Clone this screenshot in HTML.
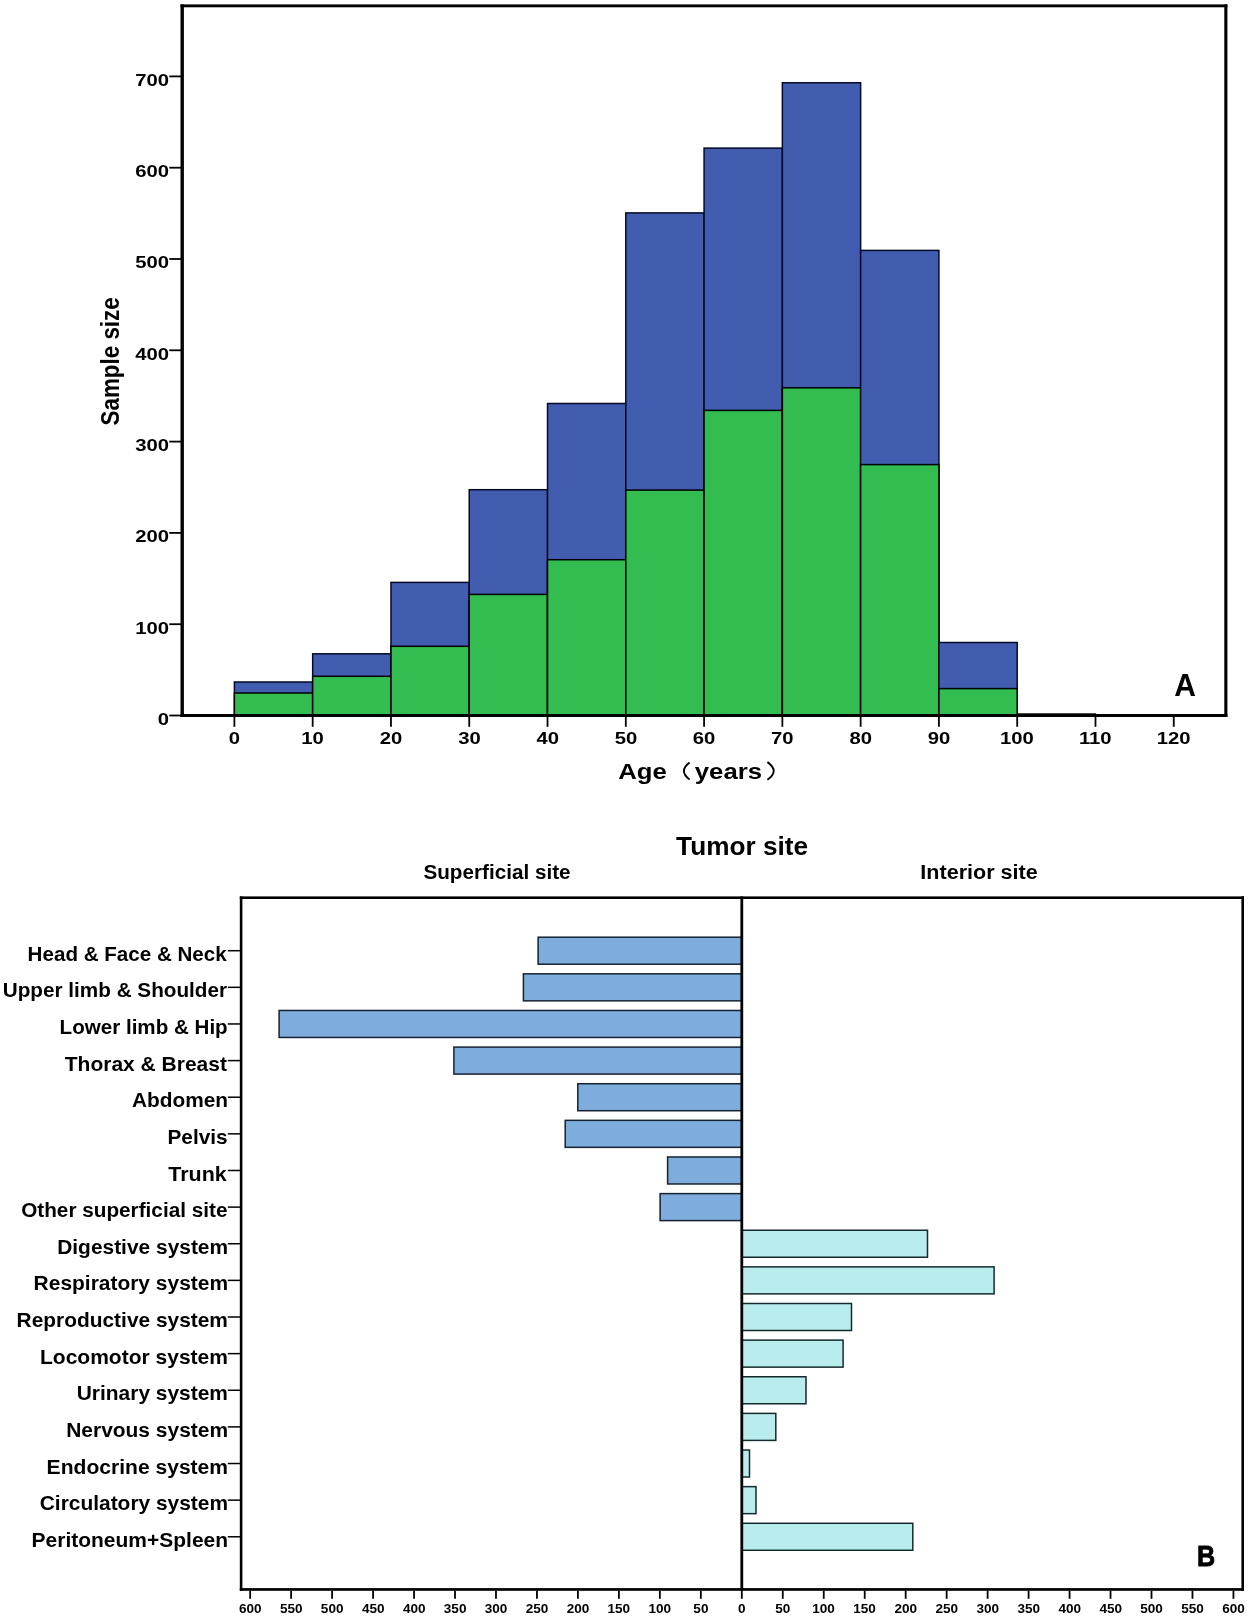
<!DOCTYPE html>
<html><head><meta charset="utf-8"><style>
html,body{margin:0;padding:0;background:#fff;}
svg{display:block;will-change:transform;}
text{font-family:"Liberation Sans", sans-serif;font-weight:bold;fill:#000;}
</style></head><body>
<svg width="1250" height="1618" viewBox="0 0 1250 1618">
<rect width="1250" height="1618" fill="#fff"/>
<rect x="234.40" y="682.00" width="78.28" height="33.50" fill="#425CB0" stroke="#050a25" stroke-width="1.5"/>
<rect x="234.40" y="693.00" width="78.28" height="22.50" fill="#33BC4F" stroke="#000" stroke-width="1.5"/>
<rect x="312.68" y="653.80" width="78.28" height="61.70" fill="#425CB0" stroke="#050a25" stroke-width="1.5"/>
<rect x="312.68" y="676.30" width="78.28" height="39.20" fill="#33BC4F" stroke="#000" stroke-width="1.5"/>
<rect x="390.96" y="582.40" width="78.28" height="133.10" fill="#425CB0" stroke="#050a25" stroke-width="1.5"/>
<rect x="390.96" y="646.30" width="78.28" height="69.20" fill="#33BC4F" stroke="#000" stroke-width="1.5"/>
<rect x="469.24" y="489.70" width="78.28" height="225.80" fill="#425CB0" stroke="#050a25" stroke-width="1.5"/>
<rect x="469.24" y="594.40" width="78.28" height="121.10" fill="#33BC4F" stroke="#000" stroke-width="1.5"/>
<rect x="547.52" y="403.50" width="78.28" height="312.00" fill="#425CB0" stroke="#050a25" stroke-width="1.5"/>
<rect x="547.52" y="559.70" width="78.28" height="155.80" fill="#33BC4F" stroke="#000" stroke-width="1.5"/>
<rect x="625.80" y="212.90" width="78.28" height="502.60" fill="#425CB0" stroke="#050a25" stroke-width="1.5"/>
<rect x="625.80" y="490.10" width="78.28" height="225.40" fill="#33BC4F" stroke="#000" stroke-width="1.5"/>
<rect x="704.08" y="148.10" width="78.28" height="567.40" fill="#425CB0" stroke="#050a25" stroke-width="1.5"/>
<rect x="704.08" y="410.40" width="78.28" height="305.10" fill="#33BC4F" stroke="#000" stroke-width="1.5"/>
<rect x="782.36" y="82.75" width="78.28" height="632.75" fill="#425CB0" stroke="#050a25" stroke-width="1.5"/>
<rect x="782.36" y="387.80" width="78.28" height="327.70" fill="#33BC4F" stroke="#000" stroke-width="1.5"/>
<rect x="860.64" y="250.40" width="78.28" height="465.10" fill="#425CB0" stroke="#050a25" stroke-width="1.5"/>
<rect x="860.64" y="464.60" width="78.28" height="250.90" fill="#33BC4F" stroke="#000" stroke-width="1.5"/>
<rect x="938.92" y="642.50" width="78.28" height="73.00" fill="#425CB0" stroke="#050a25" stroke-width="1.5"/>
<rect x="938.92" y="688.60" width="78.28" height="26.90" fill="#33BC4F" stroke="#000" stroke-width="1.5"/>
<rect x="1016.60" y="713.30" width="79.48" height="3.70" fill="#000"/>
<rect x="180.50" y="4.40" width="1046.90" height="2.90" fill="#000"/>
<rect x="180.50" y="4.40" width="3.40" height="712.60" fill="#000"/>
<rect x="1224.30" y="4.40" width="3.10" height="712.60" fill="#000"/>
<rect x="180.50" y="714.00" width="1046.90" height="3.00" fill="#000"/>
<line x1="169.3" y1="715.5" x2="182" y2="715.5" stroke="#000" stroke-width="1.8"/>
<text transform="translate(157.86,724.80) scale(1.1650,1)" font-size="17.4" >0</text>
<line x1="169.3" y1="624.2" x2="182" y2="624.2" stroke="#000" stroke-width="1.8"/>
<text transform="translate(135.32,633.50) scale(1.1650,1)" font-size="17.4" >100</text>
<line x1="169.3" y1="532.9" x2="182" y2="532.9" stroke="#000" stroke-width="1.8"/>
<text transform="translate(135.32,542.20) scale(1.1650,1)" font-size="17.4" >200</text>
<line x1="169.3" y1="441.6" x2="182" y2="441.6" stroke="#000" stroke-width="1.8"/>
<text transform="translate(135.32,450.90) scale(1.1650,1)" font-size="17.4" >300</text>
<line x1="169.3" y1="350.3" x2="182" y2="350.3" stroke="#000" stroke-width="1.8"/>
<text transform="translate(135.32,359.60) scale(1.1650,1)" font-size="17.4" >400</text>
<line x1="169.3" y1="259.0" x2="182" y2="259.0" stroke="#000" stroke-width="1.8"/>
<text transform="translate(135.32,268.30) scale(1.1650,1)" font-size="17.4" >500</text>
<line x1="169.3" y1="167.70000000000005" x2="182" y2="167.70000000000005" stroke="#000" stroke-width="1.8"/>
<text transform="translate(135.32,177.00) scale(1.1650,1)" font-size="17.4" >600</text>
<line x1="169.3" y1="76.39999999999998" x2="182" y2="76.39999999999998" stroke="#000" stroke-width="1.8"/>
<text transform="translate(135.32,85.70) scale(1.1650,1)" font-size="17.4" >700</text>
<line x1="234.4" y1="717" x2="234.4" y2="726.8" stroke="#000" stroke-width="1.8"/>
<text transform="translate(228.77,744.20) scale(1.1650,1)" font-size="17.4" >0</text>
<line x1="312.68" y1="717" x2="312.68" y2="726.8" stroke="#000" stroke-width="1.8"/>
<text transform="translate(301.19,744.20) scale(1.1650,1)" font-size="17.4" >10</text>
<line x1="390.96000000000004" y1="717" x2="390.96000000000004" y2="726.8" stroke="#000" stroke-width="1.8"/>
<text transform="translate(379.75,744.20) scale(1.1650,1)" font-size="17.4" >20</text>
<line x1="469.24" y1="717" x2="469.24" y2="726.8" stroke="#000" stroke-width="1.8"/>
<text transform="translate(458.15,744.20) scale(1.1650,1)" font-size="17.4" >30</text>
<line x1="547.52" y1="717" x2="547.52" y2="726.8" stroke="#000" stroke-width="1.8"/>
<text transform="translate(536.51,744.20) scale(1.1650,1)" font-size="17.4" >40</text>
<line x1="625.8" y1="717" x2="625.8" y2="726.8" stroke="#000" stroke-width="1.8"/>
<text transform="translate(614.63,744.20) scale(1.1650,1)" font-size="17.4" >50</text>
<line x1="704.08" y1="717" x2="704.08" y2="726.8" stroke="#000" stroke-width="1.8"/>
<text transform="translate(692.85,744.20) scale(1.1650,1)" font-size="17.4" >60</text>
<line x1="782.36" y1="717" x2="782.36" y2="726.8" stroke="#000" stroke-width="1.8"/>
<text transform="translate(771.07,744.20) scale(1.1650,1)" font-size="17.4" >70</text>
<line x1="860.64" y1="717" x2="860.64" y2="726.8" stroke="#000" stroke-width="1.8"/>
<text transform="translate(849.46,744.20) scale(1.1650,1)" font-size="17.4" >80</text>
<line x1="938.92" y1="717" x2="938.92" y2="726.8" stroke="#000" stroke-width="1.8"/>
<text transform="translate(927.71,744.20) scale(1.1650,1)" font-size="17.4" >90</text>
<line x1="1017.1999999999999" y1="717" x2="1017.1999999999999" y2="726.8" stroke="#000" stroke-width="1.8"/>
<text transform="translate(1000.07,744.20) scale(1.1650,1)" font-size="17.4" >100</text>
<line x1="1095.48" y1="717" x2="1095.48" y2="726.8" stroke="#000" stroke-width="1.8"/>
<text transform="translate(1078.91,744.20) scale(1.1650,1)" font-size="17.4" >110</text>
<line x1="1173.76" y1="717" x2="1173.76" y2="726.8" stroke="#000" stroke-width="1.8"/>
<text transform="translate(1156.63,744.20) scale(1.1650,1)" font-size="17.4" >120</text>
<text transform="translate(618.26,779.20) scale(1.1200,1)" font-size="23" >Age</text>
<text transform="translate(694.79,779.20) scale(1.1200,1)" font-size="23" >years</text>
<path d="M689.6,762.4 Q678.2,771 689.6,779.6" fill="none" stroke="#000" stroke-width="1.9"/>
<path d="M767.4,762.1 Q780.0,770.9 767.4,779.7" fill="none" stroke="#000" stroke-width="1.9"/>
<text transform="translate(118.75,425.45) rotate(-90) scale(1,1.13)" font-size="22.4">Sample size</text>
<text transform="translate(1174.15,695.90) scale(0.9500,1)" font-size="31.7" >A</text>
<rect x="538.10" y="937.20" width="203.70" height="27.00" fill="#7EACDD" stroke="#16222F" stroke-width="1.5"/>
<line x1="227.8" y1="950.7" x2="240.5" y2="950.7" stroke="#000" stroke-width="1.5"/>
<text transform="translate(27.62,960.80) scale(1.0561,1)" font-size="19.5" >Head &amp; Face &amp; Neck</text>
<rect x="523.40" y="973.83" width="218.40" height="27.00" fill="#7EACDD" stroke="#16222F" stroke-width="1.5"/>
<line x1="227.8" y1="987.33" x2="240.5" y2="987.33" stroke="#000" stroke-width="1.5"/>
<text transform="translate(2.76,997.43) scale(1.0620,1)" font-size="19.5" >Upper limb &amp; Shoulder</text>
<rect x="279.10" y="1010.46" width="462.70" height="27.00" fill="#7EACDD" stroke="#16222F" stroke-width="1.5"/>
<line x1="227.8" y1="1023.96" x2="240.5" y2="1023.96" stroke="#000" stroke-width="1.5"/>
<text transform="translate(59.62,1034.06) scale(1.0550,1)" font-size="19.5" >Lower limb &amp; Hip</text>
<rect x="453.90" y="1047.09" width="287.90" height="27.00" fill="#7EACDD" stroke="#16222F" stroke-width="1.5"/>
<line x1="227.8" y1="1060.5900000000001" x2="240.5" y2="1060.5900000000001" stroke="#000" stroke-width="1.5"/>
<text transform="translate(64.77,1070.69) scale(1.0773,1)" font-size="19.5" >Thorax &amp; Breast</text>
<rect x="577.80" y="1083.72" width="164.00" height="27.00" fill="#7EACDD" stroke="#16222F" stroke-width="1.5"/>
<line x1="227.8" y1="1097.22" x2="240.5" y2="1097.22" stroke="#000" stroke-width="1.5"/>
<text transform="translate(131.98,1107.32) scale(1.0689,1)" font-size="19.5" >Abdomen</text>
<rect x="565.20" y="1120.35" width="176.60" height="27.00" fill="#7EACDD" stroke="#16222F" stroke-width="1.5"/>
<line x1="227.8" y1="1133.8500000000001" x2="240.5" y2="1133.8500000000001" stroke="#000" stroke-width="1.5"/>
<text transform="translate(167.40,1143.95) scale(1.0688,1)" font-size="19.5" >Pelvis</text>
<rect x="667.60" y="1156.98" width="74.20" height="27.00" fill="#7EACDD" stroke="#16222F" stroke-width="1.5"/>
<line x1="227.8" y1="1170.48" x2="240.5" y2="1170.48" stroke="#000" stroke-width="1.5"/>
<text transform="translate(168.36,1180.58) scale(1.1001,1)" font-size="19.5" >Trunk</text>
<rect x="660.10" y="1193.61" width="81.70" height="27.00" fill="#7EACDD" stroke="#16222F" stroke-width="1.5"/>
<line x1="227.8" y1="1207.1100000000001" x2="240.5" y2="1207.1100000000001" stroke="#000" stroke-width="1.5"/>
<text transform="translate(21.15,1217.21) scale(1.0638,1)" font-size="19.5" >Other superficial site</text>
<rect x="741.80" y="1230.24" width="185.70" height="27.00" fill="#B9ECED" stroke="#152A2A" stroke-width="1.5"/>
<line x1="227.8" y1="1243.74" x2="240.5" y2="1243.74" stroke="#000" stroke-width="1.5"/>
<text transform="translate(57.20,1253.84) scale(1.0726,1)" font-size="19.5" >Digestive system</text>
<rect x="741.80" y="1266.87" width="252.30" height="27.00" fill="#B9ECED" stroke="#152A2A" stroke-width="1.5"/>
<line x1="227.8" y1="1280.3700000000001" x2="240.5" y2="1280.3700000000001" stroke="#000" stroke-width="1.5"/>
<text transform="translate(33.60,1290.47) scale(1.0746,1)" font-size="19.5" >Respiratory system</text>
<rect x="741.80" y="1303.50" width="109.70" height="27.00" fill="#B9ECED" stroke="#152A2A" stroke-width="1.5"/>
<line x1="227.8" y1="1317.0" x2="240.5" y2="1317.0" stroke="#000" stroke-width="1.5"/>
<text transform="translate(16.60,1327.10) scale(1.0723,1)" font-size="19.5" >Reproductive system</text>
<rect x="741.80" y="1340.13" width="101.30" height="27.00" fill="#B9ECED" stroke="#152A2A" stroke-width="1.5"/>
<line x1="227.8" y1="1353.63" x2="240.5" y2="1353.63" stroke="#000" stroke-width="1.5"/>
<text transform="translate(39.99,1363.73) scale(1.0783,1)" font-size="19.5" >Locomotor system</text>
<rect x="741.80" y="1376.76" width="64.20" height="27.00" fill="#B9ECED" stroke="#152A2A" stroke-width="1.5"/>
<line x1="227.8" y1="1390.2600000000002" x2="240.5" y2="1390.2600000000002" stroke="#000" stroke-width="1.5"/>
<text transform="translate(76.74,1400.36) scale(1.0742,1)" font-size="19.5" >Urinary system</text>
<rect x="741.80" y="1413.39" width="34.00" height="27.00" fill="#B9ECED" stroke="#152A2A" stroke-width="1.5"/>
<line x1="227.8" y1="1426.89" x2="240.5" y2="1426.89" stroke="#000" stroke-width="1.5"/>
<text transform="translate(66.20,1436.99) scale(1.0746,1)" font-size="19.5" >Nervous system</text>
<rect x="741.80" y="1450.02" width="7.70" height="27.00" fill="#B9ECED" stroke="#152A2A" stroke-width="1.5"/>
<line x1="227.8" y1="1463.52" x2="240.5" y2="1463.52" stroke="#000" stroke-width="1.5"/>
<text transform="translate(46.59,1473.62) scale(1.0806,1)" font-size="19.5" >Endocrine system</text>
<rect x="741.80" y="1486.65" width="14.20" height="27.00" fill="#B9ECED" stroke="#152A2A" stroke-width="1.5"/>
<line x1="227.8" y1="1500.15" x2="240.5" y2="1500.15" stroke="#000" stroke-width="1.5"/>
<text transform="translate(39.74,1510.25) scale(1.0728,1)" font-size="19.5" >Circulatory system</text>
<rect x="741.80" y="1523.28" width="171.00" height="27.00" fill="#B9ECED" stroke="#152A2A" stroke-width="1.5"/>
<line x1="227.8" y1="1536.7800000000002" x2="240.5" y2="1536.7800000000002" stroke="#000" stroke-width="1.5"/>
<text transform="translate(31.59,1546.88) scale(1.0762,1)" font-size="19.5" >Peritoneum+Spleen</text>
<rect x="239.80" y="896.40" width="1004.20" height="2.60" fill="#000"/>
<rect x="239.80" y="896.40" width="2.60" height="694.40" fill="#000"/>
<rect x="1241.40" y="896.40" width="2.60" height="694.40" fill="#000"/>
<rect x="239.80" y="1588.10" width="1004.20" height="2.70" fill="#000"/>
<rect x="740.40" y="896.40" width="2.80" height="694.40" fill="#000"/>
<line x1="250.15999999999997" y1="1590.8" x2="250.15999999999997" y2="1598.8" stroke="#000" stroke-width="1.8"/>
<text transform="translate(238.88,1612.90) scale(1.0000,1)" font-size="13.56" >600</text>
<line x1="291.12999999999994" y1="1590.8" x2="291.12999999999994" y2="1598.8" stroke="#000" stroke-width="1.8"/>
<text transform="translate(279.89,1612.90) scale(1.0000,1)" font-size="13.56" >550</text>
<line x1="332.09999999999997" y1="1590.8" x2="332.09999999999997" y2="1598.8" stroke="#000" stroke-width="1.8"/>
<text transform="translate(320.86,1612.90) scale(1.0000,1)" font-size="13.56" >500</text>
<line x1="373.06999999999994" y1="1590.8" x2="373.06999999999994" y2="1598.8" stroke="#000" stroke-width="1.8"/>
<text transform="translate(361.94,1612.90) scale(1.0000,1)" font-size="13.56" >450</text>
<line x1="414.03999999999996" y1="1590.8" x2="414.03999999999996" y2="1598.8" stroke="#000" stroke-width="1.8"/>
<text transform="translate(402.91,1612.90) scale(1.0000,1)" font-size="13.56" >400</text>
<line x1="455.00999999999993" y1="1590.8" x2="455.00999999999993" y2="1598.8" stroke="#000" stroke-width="1.8"/>
<text transform="translate(443.82,1612.90) scale(1.0000,1)" font-size="13.56" >350</text>
<line x1="495.97999999999996" y1="1590.8" x2="495.97999999999996" y2="1598.8" stroke="#000" stroke-width="1.8"/>
<text transform="translate(484.79,1612.90) scale(1.0000,1)" font-size="13.56" >300</text>
<line x1="536.9499999999999" y1="1590.8" x2="536.9499999999999" y2="1598.8" stroke="#000" stroke-width="1.8"/>
<text transform="translate(525.68,1612.90) scale(1.0000,1)" font-size="13.56" >250</text>
<line x1="577.92" y1="1590.8" x2="577.92" y2="1598.8" stroke="#000" stroke-width="1.8"/>
<text transform="translate(566.65,1612.90) scale(1.0000,1)" font-size="13.56" >200</text>
<line x1="618.89" y1="1590.8" x2="618.89" y2="1598.8" stroke="#000" stroke-width="1.8"/>
<text transform="translate(607.43,1612.90) scale(1.0000,1)" font-size="13.56" >150</text>
<line x1="659.8599999999999" y1="1590.8" x2="659.8599999999999" y2="1598.8" stroke="#000" stroke-width="1.8"/>
<text transform="translate(648.40,1612.90) scale(1.0000,1)" font-size="13.56" >100</text>
<line x1="700.8299999999999" y1="1590.8" x2="700.8299999999999" y2="1598.8" stroke="#000" stroke-width="1.8"/>
<text transform="translate(693.36,1612.90) scale(1.0000,1)" font-size="13.56" >50</text>
<line x1="741.8" y1="1590.8" x2="741.8" y2="1598.8" stroke="#000" stroke-width="1.8"/>
<text transform="translate(738.04,1612.90) scale(1.0000,1)" font-size="13.56" >0</text>
<line x1="782.77" y1="1590.8" x2="782.77" y2="1598.8" stroke="#000" stroke-width="1.8"/>
<text transform="translate(775.30,1612.90) scale(1.0000,1)" font-size="13.56" >50</text>
<line x1="823.74" y1="1590.8" x2="823.74" y2="1598.8" stroke="#000" stroke-width="1.8"/>
<text transform="translate(812.28,1612.90) scale(1.0000,1)" font-size="13.56" >100</text>
<line x1="864.7099999999999" y1="1590.8" x2="864.7099999999999" y2="1598.8" stroke="#000" stroke-width="1.8"/>
<text transform="translate(853.25,1612.90) scale(1.0000,1)" font-size="13.56" >150</text>
<line x1="905.68" y1="1590.8" x2="905.68" y2="1598.8" stroke="#000" stroke-width="1.8"/>
<text transform="translate(894.41,1612.90) scale(1.0000,1)" font-size="13.56" >200</text>
<line x1="946.65" y1="1590.8" x2="946.65" y2="1598.8" stroke="#000" stroke-width="1.8"/>
<text transform="translate(935.38,1612.90) scale(1.0000,1)" font-size="13.56" >250</text>
<line x1="987.6199999999999" y1="1590.8" x2="987.6199999999999" y2="1598.8" stroke="#000" stroke-width="1.8"/>
<text transform="translate(976.43,1612.90) scale(1.0000,1)" font-size="13.56" >300</text>
<line x1="1028.59" y1="1590.8" x2="1028.59" y2="1598.8" stroke="#000" stroke-width="1.8"/>
<text transform="translate(1017.40,1612.90) scale(1.0000,1)" font-size="13.56" >350</text>
<line x1="1069.56" y1="1590.8" x2="1069.56" y2="1598.8" stroke="#000" stroke-width="1.8"/>
<text transform="translate(1058.43,1612.90) scale(1.0000,1)" font-size="13.56" >400</text>
<line x1="1110.53" y1="1590.8" x2="1110.53" y2="1598.8" stroke="#000" stroke-width="1.8"/>
<text transform="translate(1099.40,1612.90) scale(1.0000,1)" font-size="13.56" >450</text>
<line x1="1151.5" y1="1590.8" x2="1151.5" y2="1598.8" stroke="#000" stroke-width="1.8"/>
<text transform="translate(1140.26,1612.90) scale(1.0000,1)" font-size="13.56" >500</text>
<line x1="1192.47" y1="1590.8" x2="1192.47" y2="1598.8" stroke="#000" stroke-width="1.8"/>
<text transform="translate(1181.23,1612.90) scale(1.0000,1)" font-size="13.56" >550</text>
<line x1="1233.44" y1="1590.8" x2="1233.44" y2="1598.8" stroke="#000" stroke-width="1.8"/>
<text transform="translate(1222.16,1612.90) scale(1.0000,1)" font-size="13.56" >600</text>
<text transform="translate(676.11,855.10) scale(1.0400,1)" font-size="25.2" >Tumor site</text>
<text transform="translate(423.40,879.00) scale(1.0100,1)" font-size="20.5" >Superficial site</text>
<text transform="translate(920.36,878.90) scale(1.0520,1)" font-size="20.5" >Interior site</text>
<text transform="translate(1196.91,1565.50) scale(0.8400,1)" font-size="30.0" stroke="#000" stroke-width="0.8">B</text>
</svg>
</body></html>
